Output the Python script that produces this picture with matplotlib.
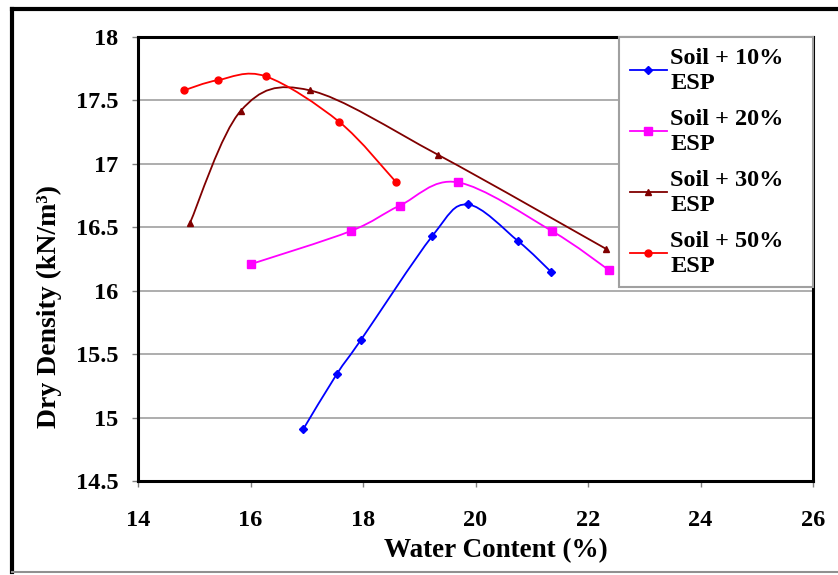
import numpy as np
import matplotlib
matplotlib.use("Agg")
import matplotlib.pyplot as plt
from matplotlib.path import Path
from matplotlib.patches import PathPatch
from matplotlib.lines import Line2D

plt.rcParams['font.family'] = ['Liberation Serif', 'DejaVu Serif']
plt.rcParams['font.weight'] = 'bold'

# data
w_10 = [16.94, 17.53, 17.96, 19.23, 19.86, 20.76, 21.34]
d_10 = [14.91, 15.34, 15.61, 16.43, 16.68, 16.39, 16.15]

w_20 = [16.01, 17.78, 18.65, 19.68, 21.36, 22.38]
d_20 = [16.21, 16.47, 16.67, 16.855, 16.47, 16.16]

w_30 = [14.92, 15.83, 17.05, 19.34, 22.32]
d_30 = [16.53, 17.42, 17.58, 17.07, 16.33]

w_50 = [14.82, 15.42, 16.27, 17.58, 18.59]
d_50 = [17.58, 17.66, 17.69, 17.33, 16.855]

labels = ["Soil + 10%\nESP", "Soil + 20%\nESP", "Soil + 30%\nESP", "Soil + 50%\nESP"]
colors = ["#0000FF", "#FF00FF", "#800000", "#FF0000"]
markers = ["D", "s", "^", "o"]
msizes = [4, 6, 5, 5]


def smooth_path(x, y):
    # excel style smoothed line: cubic bezier through every point
    p = np.column_stack([x, y])
    n = len(p)
    verts = [p[0]]
    codes = [Path.MOVETO]
    for i in range(n - 1):
        p0 = p[i - 1] if i > 0 else p[i]
        p3 = p[i + 2] if i + 2 < n else p[i + 1]
        c1 = p[i] + (p[i + 1] - p0) / 6.0
        c2 = p[i + 1] - (p3 - p[i]) / 6.0
        verts += [c1, c2, p[i + 1]]
        codes += [Path.CURVE4] * 3
    return Path(verts, codes)


fig = plt.figure(figsize=(8.38, 5.75), dpi=100)
ax = fig.add_axes([138 / 838, 1 - 481 / 575, 675 / 838, 444 / 575])

series = [(w_10, d_10), (w_20, d_20), (w_30, d_30), (w_50, d_50)]
handles = []
for (x, y), c, m, ms, lab in zip(series, colors, markers, msizes, labels):
    ax.add_patch(PathPatch(smooth_path(x, y), fill=False, edgecolor=c, lw=1.3, zorder=3))
    ax.plot(x, y, ls='none', marker=m, color=c, ms=ms, zorder=4)
    handles.append(Line2D([], [], color=c, marker=m, ms=ms, lw=1.3))

ax.set_xlim(14, 26)
ax.set_ylim(14.5, 18)
ax.set_xticks(np.arange(14, 27, 2))
ax.set_yticks(np.arange(14.5, 18.01, 0.5))
ax.set_yticklabels(["14.5", "15", "15.5", "16", "16.5", "17", "17.5", "18"])
ax.yaxis.grid(True, color='#a0a0a0', lw=1.2)
ax.set_axisbelow(True)
for s in ax.spines.values():
    s.set_linewidth(2.2)
    s.set_color('black')
ax.tick_params(axis='both', labelsize=17.5, color='#808080', length=4, width=1)
ax.tick_params(axis='x', pad=17)
ax.tick_params(axis='y', pad=10)
for t in ax.get_xticklabels() + ax.get_yticklabels():
    t.set_fontweight('bold')

ax.set_xlabel("Water Content (%)", fontsize=19.5, fontweight='bold')
ax.xaxis.set_label_coords(0.53, -0.128)
ax.set_ylabel("Dry Density (kN/m³)", fontsize=20, fontweight='bold')
ax.yaxis.set_label_coords(-0.113, 0.392)

# trailing spaces keep the wider right margin of the original legend
leg_labels = [lab.replace("%", "%   ") for lab in labels]
leg = ax.legend(handles, leg_labels, loc='upper right', bbox_to_anchor=(1.0, 1.0),
                borderaxespad=0.0, fancybox=False, framealpha=1, handlelength=1.5,
                handletextpad=0.15, labelspacing=0.62, borderpad=0.45,
                prop={'size': 17.5, 'weight': 'bold'})
leg.get_frame().set_edgecolor('#a0a0a0')
leg.get_frame().set_linewidth(1.5)
for t in leg.get_texts():
    t.set_linespacing(1.24)

# outer frame of the picture
fig.add_artist(Line2D([12 / 838, 12 / 838], [1 - 572 / 575, 1 - 9 / 575],
                      transform=fig.transFigure, color='black', lw=3))
fig.add_artist(Line2D([12 / 838, 1.0], [1 - 9 / 575, 1 - 9 / 575],
                      transform=fig.transFigure, color='black', lw=3))
fig.add_artist(Line2D([12 / 838, 1.0], [1 - 572 / 575, 1 - 572 / 575],
                      transform=fig.transFigure, color='#909090', lw=1.5))

fig.savefig("out.png", dpi=100)
